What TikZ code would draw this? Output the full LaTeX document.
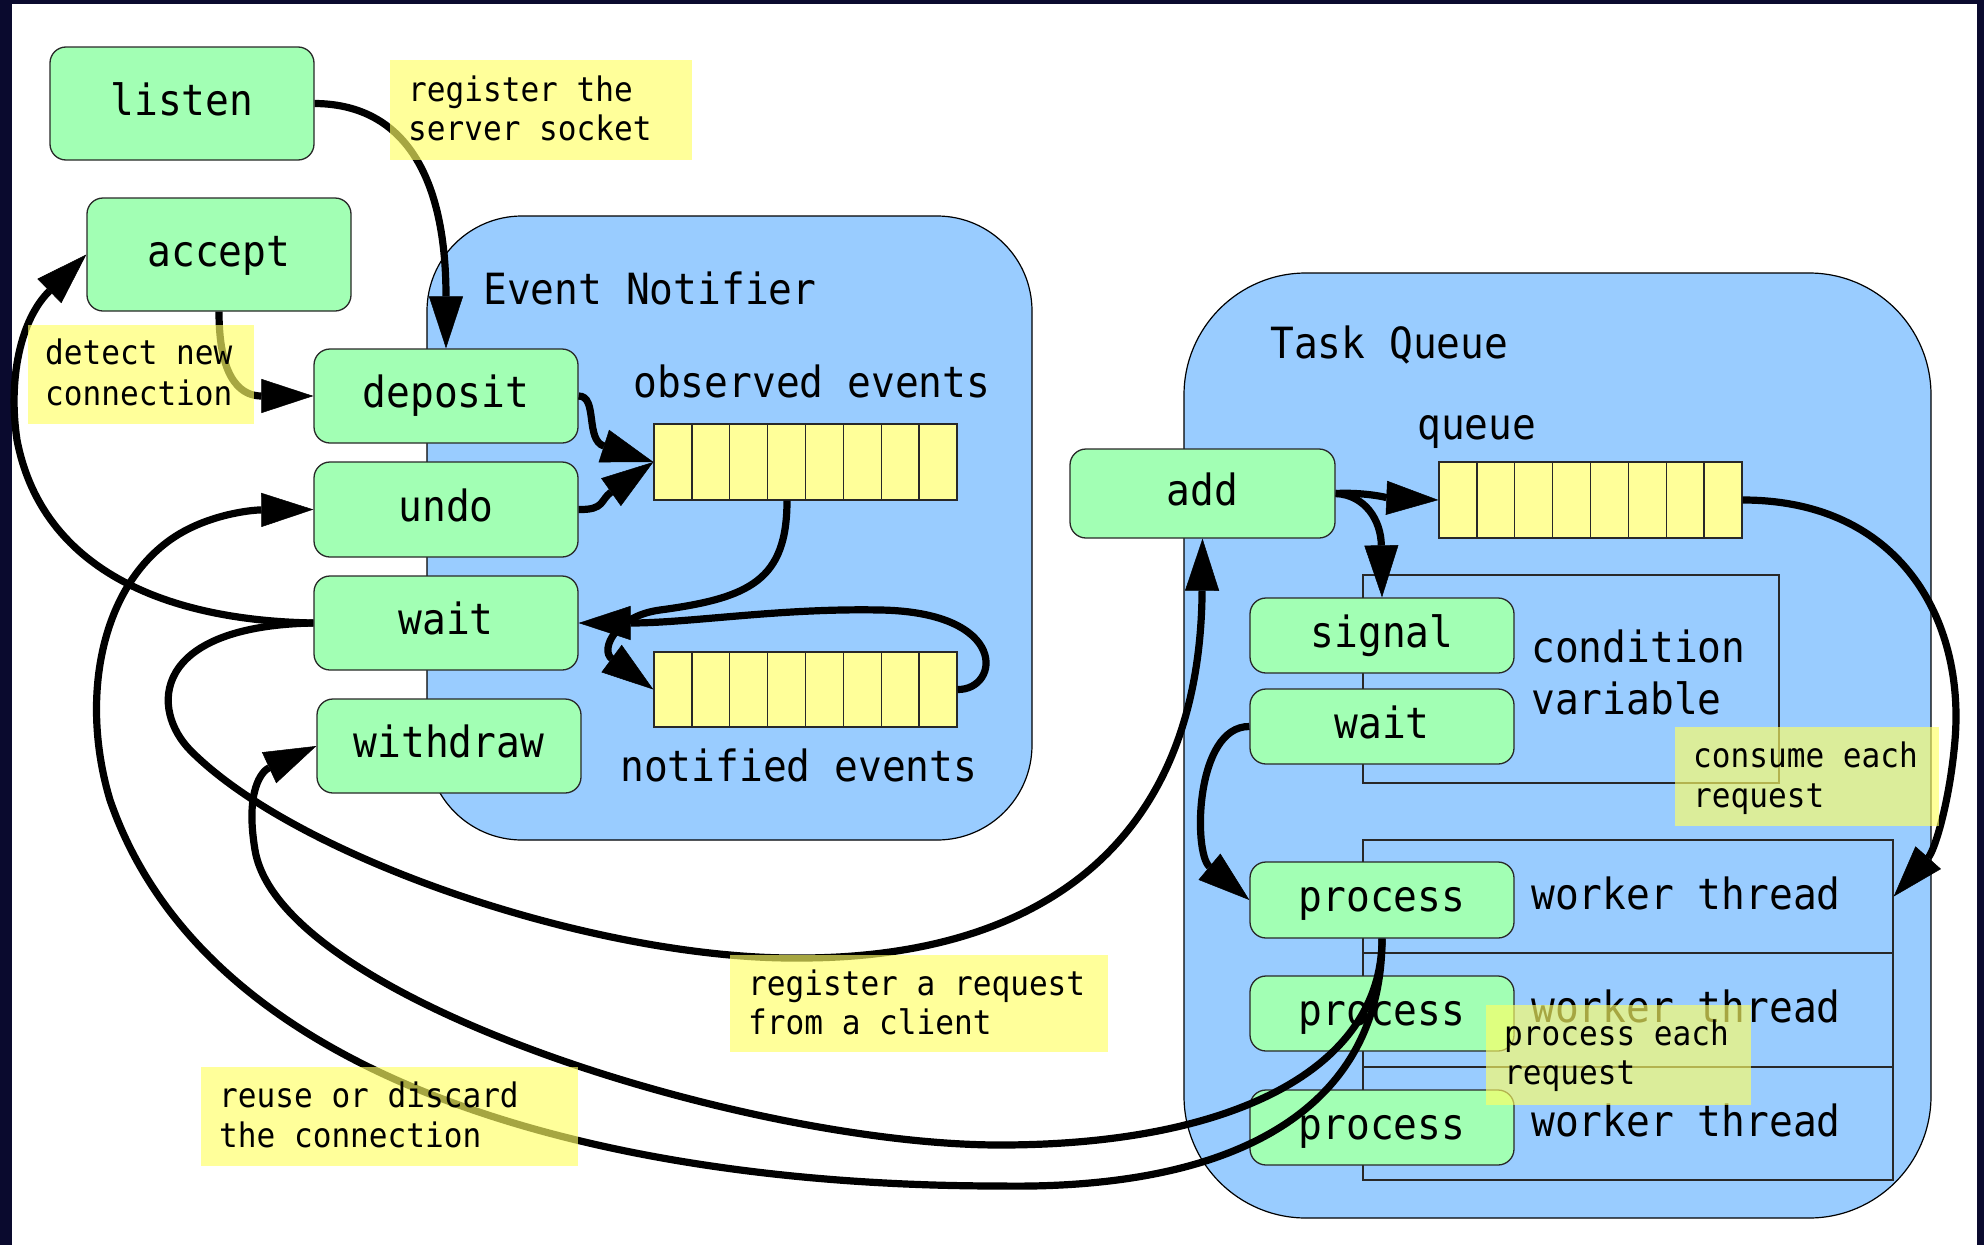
\documentclass[tikz,border=0pt]{standalone}
\usepackage{fontspec}
\newfontfamily\dm[FakeStretch=0.92]{DejaVu Sans Mono}
\usetikzlibrary{arrows.meta,calc}
\definecolor{gboxc}{RGB}{162,255,180}
\definecolor{blobc}{RGB}{153,204,255}
\definecolor{qfillc}{RGB}{255,255,153}
\definecolor{notec}{RGB}{255,255,100}
\definecolor{framec}{RGB}{10,10,46}
\definecolor{edgec}{RGB}{40,40,40}
\begin{document}
\begin{tikzpicture}[x=1pt,y=-1pt,
  bigf/.style={font=\dm\fontsize{43}{43}\selectfont},
  smallf/.style={font=\dm\fontsize{33.8}{40}\selectfont},
  gb/.style={draw=edgec, line width=1.3pt, fill=gboxc, rounded corners=16pt, inner sep=0pt, minimum width=264pt},
  qb/.style={draw=edgec, line width=1.3pt, fill=qfillc, inner sep=0pt, minimum width=303pt},
  frm/.style={draw=edgec, line width=1.3pt, inner sep=0pt},
  blob/.style={draw=black, line width=1.2pt, fill=blobc, inner sep=0pt},
  note/.style={fill=notec, fill opacity=0.65, inner sep=0pt},
  lbl/.style={bigf, anchor=base, inner sep=0pt},
  tl/.style={bigf, anchor=base west, inner sep=0pt},
  nl/.style={smallf, anchor=base west, inner sep=0pt},
  conn/.style={line width=7.2pt, -{Triangle[length=52pt,width=34pt,line width=0.5pt]}},
  ]
\useasboundingbox (0,0) rectangle (1984,1245);
\fill[framec] (0,0) rectangle (1984,1245);
\fill[white] (12,4) rectangle (1977,1245);

% containers
\node[blob, rounded corners=95pt, minimum width=605pt, minimum height=624pt] (en) at (729.5,528) {};
\node[blob, rounded corners=122pt, minimum width=747pt, minimum height=945pt] (tq) at (1557.5,745.5) {};

% frames inside task queue
\node[frm, minimum width=416pt, minimum height=208pt] (cv) at (1571,679) {};
\node[frm, minimum width=530pt, minimum height=113pt] (wt1) at (1628,896.5) {};
\node[frm, minimum width=530pt, minimum height=114pt] (wt2) at (1628,1010) {};
\node[frm, minimum width=530pt, minimum height=113pt] (wt3) at (1628,1123.5) {};

% queues
\node[qb, minimum height=76pt] (obsQ) at (805.5,462) {};
\node[qb, minimum height=75pt] (notQ) at (805.5,689.5) {};
\node[qb, minimum height=76pt] (tqQ) at (1590.5,500) {};
\foreach \i in {1,...,7}{
  \draw[edgec, line width=1.3pt] (654+\i*37.875,424) -- (654+\i*37.875,500);
  \draw[edgec, line width=1.3pt] (654+\i*37.875,652) -- (654+\i*37.875,727);
  \draw[edgec, line width=1.3pt] (1439+\i*37.875,462) -- (1439+\i*37.875,538);
}

% green boxes
\node[gb, minimum height=113pt] (listen) at (182,103.5) {};
\node[gb, minimum height=113pt] (accept) at (219,254.5) {};
\node[gb, minimum height=94pt] (deposit) at (446,396) {};
\node[gb, minimum height=95pt] (undo) at (446,509.5) {};
\node[gb, minimum height=94pt] (wait1) at (446,623) {};
\node[gb, minimum height=94pt] (withdraw) at (449,746) {};
\node[gb, minimum width=265pt, minimum height=89pt] (add) at (1202.5,493.5) {};
\node[gb, minimum height=75pt] (signal) at (1382,635.5) {};
\node[gb, minimum height=75pt] (wait2) at (1382,726.5) {};
\node[gb, minimum height=76pt] (proc1) at (1382,900) {};
\node[gb, minimum height=75pt] (proc2) at (1382,1013.5) {};
\node[gb, minimum height=75pt] (proc3) at (1382,1127.5) {};

\node[lbl] (Llisten) at ([yshift=-11.7pt]listen.center) {listen};
\node[lbl] (Laccept) at ([yshift=-11.7pt]accept.center) {accept};
\node[lbl] (Ldeposit) at ([yshift=-11.7pt]deposit.center) {deposit};
\node[lbl] (Lundo) at ([yshift=-11.7pt]undo.center) {undo};
\node[lbl] (Lwait1) at ([yshift=-11.7pt]wait1.center) {wait};
\node[lbl] (Lwithdraw) at ([yshift=-11.7pt]withdraw.center) {withdraw};
\node[lbl] (Ladd) at ([yshift=-11.7pt]add.center) {add};
\node[lbl] (Lsignal) at ([yshift=-11.7pt]signal.center) {signal};
\node[lbl] (Lwait2) at ([yshift=-11.7pt]wait2.center) {wait};
\node[lbl] (Lproc1) at ([yshift=-11.7pt]proc1.center) {process};
\node[lbl] (Lproc2) at ([yshift=-11.7pt]proc2.center) {process};
\node[lbl] (Lproc3) at ([yshift=-11.7pt]proc3.center) {process};

% titles and labels
\node[tl] (tEN) at (483,304) {Event Notifier};
\node[tl] (tobs) at (633,397) {observed events};
\node[tl] (tnot) at (620,781) {notified events};
\node[tl] (tTQ) at (1270,358) {Task Queue};
\node[tl] (tq1) at (1417,439) {queue};
\node[tl] (tcv1) at (1531,662) {condition};
\node[tl] (tcv2) at (1531,714) {variable};
\node[tl] (tw1) at (1531,909) {worker thread};
\node[tl] (tw2) at (1531,1022) {worker thread};
\node[tl] (tw3) at (1531,1136) {worker thread};

% connectors
\draw[conn] (listen.east) .. controls (400,104) and (446,170) .. (deposit.north);
\draw[conn] (accept.south) .. controls (219,385) and (245,396) .. (deposit.west);
\draw[conn] (deposit.east) .. controls (598,396) and (585,440) .. (obsQ.west);
\draw[conn] (undo.east) .. controls (605,510) and (600,500) .. (obsQ.west);
\draw[conn] ($(obsQ.south)+(-18.5,0)$) .. controls (787,580) and (750,598) .. (660,610) .. controls (615,616) and (600,650) .. (notQ.west);
\draw[conn] (notQ.east) .. controls (1000,690) and (1010,612) .. (880,610) .. controls (780,608) and (690,623) .. (wait1.east);
\draw[conn] (wait1.west) .. controls (150,620) and (40,560) .. (17,440) .. controls (8,380) and (20,320) .. (accept.west);
\draw[conn] (wait1.west) .. controls (150,626) and (150,710) .. (191,751) .. controls (300,860) and (600,960) .. (800,958) .. controls (1020,958) and (1200,860) .. (add.south);
\draw[conn] (proc1.south) .. controls (1382,1070) and (1230,1145) .. (1000,1145) .. controls (750,1145) and (280,1000) .. (255,850) .. controls (245,790) and (262,771) .. (withdraw.west);
\draw[conn] (proc1.south) .. controls (1382,1100) and (1250,1190) .. (1000,1186) .. controls (620,1186) and (210,1090) .. (110,800) .. controls (80,700) and (100,590) .. (170,540) .. controls (205,515) and (250,510) .. (undo.west);
\draw[conn] (add.east) .. controls (1365,492) and (1390,498) .. (tqQ.west);
\draw[conn] (add.east) .. controls (1365,495) and (1381,520) .. (signal.north);
\draw[conn] (tqQ.east) .. controls (1900,500) and (1965,620) .. (1955,740) .. controls (1950,800) and (1935,850) .. (wt1.east);
\draw[conn] (wait2.west) .. controls (1195,726) and (1193,853) .. (proc1.west);

% notes
\node[note, minimum width=302pt, minimum height=100pt] (n1) at (541,110) {};
\node[note, minimum width=226pt, minimum height=99pt] (n2) at (141,374.5) {};
\node[note, minimum width=378pt, minimum height=97pt] (n3) at (919,1003.5) {};
\node[note, minimum width=377pt, minimum height=99pt] (n4) at (389.5,1116.5) {};
\node[note, minimum width=264pt, minimum height=99pt] (n5) at (1807,776.5) {};
\node[note, minimum width=265pt, minimum height=100pt] (n6) at (1618.5,1055) {};

\node[nl] (n1a) at (408,101) {register the};
\node[nl] (n1b) at (408,140) {server socket};
\node[nl] (n2a) at (45,364) {detect new};
\node[nl] (n2b) at (45,405) {connection};
\node[nl] (n3a) at (748,995) {register a request};
\node[nl] (n3b) at (748,1034) {from a client};
\node[nl] (n4a) at (219,1107) {reuse or discard};
\node[nl] (n4b) at (219,1147) {the connection};
\node[nl] (n5a) at (1693,767) {consume each};
\node[nl] (n5b) at (1693,807) {request};
\node[nl] (n6a) at (1504,1045) {process each};
\node[nl] (n6b) at (1504,1084) {request};
\end{tikzpicture}
\end{document}
